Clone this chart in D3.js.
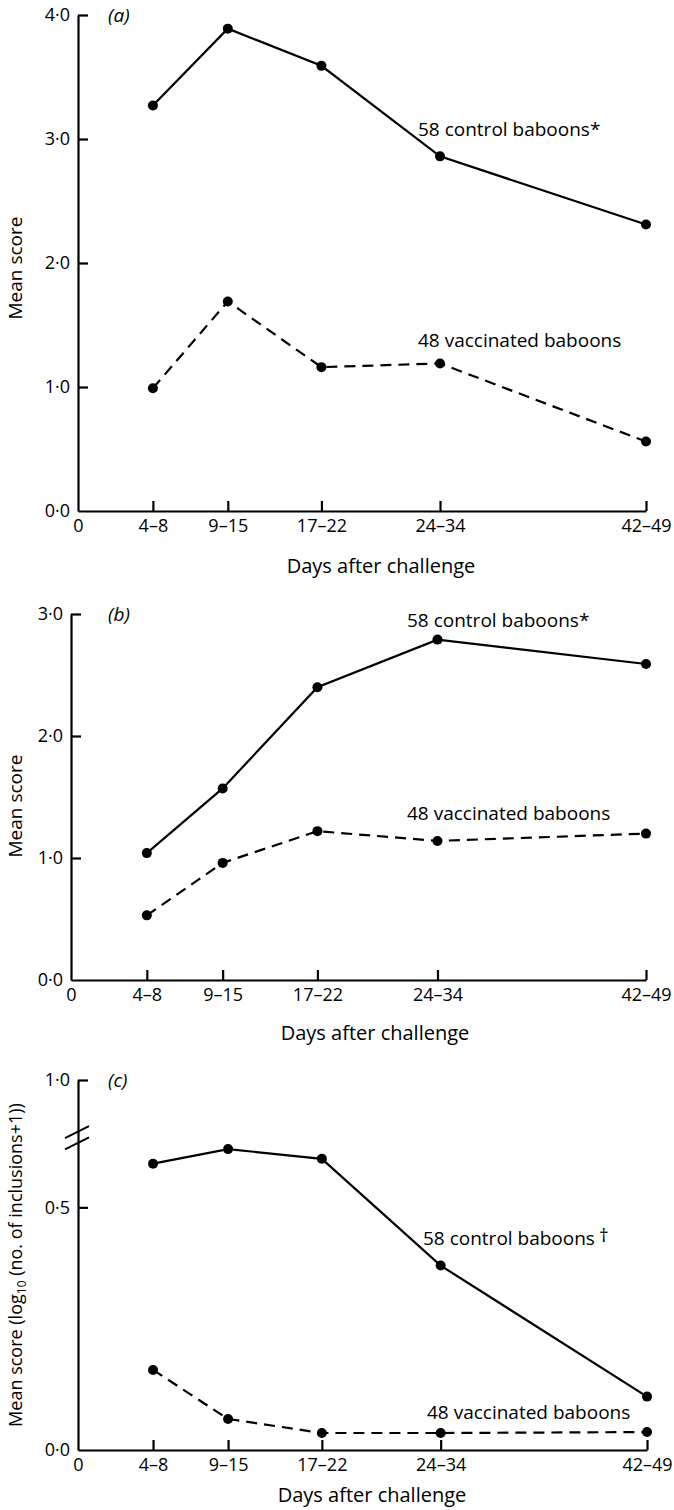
<!DOCTYPE html>
<html>
<head>
<meta charset="utf-8">
<script src="https://cdn.jsdelivr.net/npm/d3@7"></script>
<style>
  body { margin: 0; background: #fff; }
  svg text { font-family: "Open Sans", "DejaVu Sans", sans-serif; fill: #000; }
</style>
</head>
<body>
<svg id="chart"></svg>
<script>
// Categories (day ranges) and their mid-day used to place them on the axis
const categories = ['4–8', '9–15', '17–22', '24–34', '42–49'];
const dayMidpoints = [6, 12, 19.5, 29, 45.5];

// Panel (a)
const controlA = [3.27, 3.89, 3.59, 2.86, 2.31];
const vaccinatedA = [0.99, 1.69, 1.16, 1.19, 0.56];
const yTicksA = [0, 1, 2, 3, 4];

// Panel (b)
const controlB = [1.04, 1.57, 2.40, 2.79, 2.59];
const vaccinatedB = [0.53, 0.96, 1.22, 1.14, 1.20];
const yTicksB = [0, 1, 2, 3];

// Panel (c) log10(no. of inclusions + 1)
const controlC = [0.59, 0.62, 0.60, 0.38, 0.11];
const vaccinatedC = [0.165, 0.064, 0.035, 0.035, 0.037];
const yTicksC = [0, 0.5, 1.0];

const controlLabel = '58 control baboons';
const controlMarks = ['*', '*', '†'];
const vaccinatedLabel = '48 vaccinated baboons';
const xTitle = 'Days after challenge';

const W = 674, H = 1510;
const svg = d3.select('#chart').attr('width', W).attr('height', H);

const fmt = d => d.toFixed(1).replace('.', '·');

// Panel layout
const panels = [
  {
    tag: 'a', control: controlA, vacc: vaccinatedA, ticks: yTicksA,
    x: [78, 646], yDomain: [0, 4], yRange: [511, 15],
    ctlLabel: [418, 136], vacLabel: [418, 347], titleY: 573, titleX: 381,
    yTitleY: 268, tagY: 22
  },
  {
    tag: 'b', control: controlB, vacc: vaccinatedB, ticks: yTicksB,
    x: [71, 646], yDomain: [0, 3], yRange: [980, 614],
    ctlLabel: [407, 627], vacLabel: [407, 820], titleY: 1040, titleX: 375,
    yTitleY: 806, tagY: 621
  },
  {
    tag: 'c', control: controlC, vacc: vaccinatedC, ticks: yTicksC,
    x: [78, 647], yDomain: [0, 0.68, 1.0], yRange: [1450, 1120, 1080],
    ctlLabel: [423, 1245], vacLabel: [427, 1419], titleY: 1502, titleX: 372,
    yTitleY: 1265, tagY: 1087, broken: true
  }
];

panels.forEach((p, pi) => {
  const g = svg.append('g').attr('class', 'panel-' + p.tag);

  const xScale = d3.scaleLinear().domain([0, 45.5]).range(p.x);
  const yScale = d3.scaleLinear().domain(p.yDomain).range(p.yRange);
  const y0 = yScale(0);

  // x-axis: ticks point up into the plot
  const xAxis = d3.axisBottom(xScale)
    .tickValues([0].concat(dayMidpoints))
    .tickFormat((d, i) => i === 0 ? '0' : categories[i - 1])
    .tickSizeInner(-10)
    .tickSizeOuter(0)
    .tickPadding(8);

  const gx = g.append('g')
    .attr('transform', `translate(0, ${y0})`)
    .call(xAxis);
  gx.selectAll('path, line').attr('stroke', '#000').attr('stroke-width', 2.2);
  gx.selectAll('text').attr('font-size', 18).attr('fill', '#000');
  gx.selectAll('.tick').filter(d => d === 0).select('line').remove();

  // y-axis: ticks point right
  const yAxis = d3.axisLeft(yScale)
    .tickValues(p.ticks)
    .tickFormat(fmt)
    .tickSizeInner(-10)
    .tickSizeOuter(0)
    .tickPadding(8);

  const gy = g.append('g')
    .attr('transform', `translate(${p.x[0]}, 0)`)
    .call(yAxis);
  gy.selectAll('path, line').attr('stroke', '#000').attr('stroke-width', 2.2);
  gy.selectAll('text').attr('font-size', 18).attr('fill', '#000');
  gy.selectAll('.tick').filter(d => d === 0).select('line').remove();

  // axis break marks on panel (c)
  if (p.broken) {
    [0.655, 0.632].forEach(v => {
      const yy = yScale(v);
      g.append('line')
        .attr('x1', p.x[0] - 13).attr('y1', yy + 6)
        .attr('x2', p.x[0] + 11).attr('y2', yy - 6)
        .attr('stroke', '#000').attr('stroke-width', 2);
    });
  }

  // lines
  const line = d3.line()
    .x((d, i) => xScale(dayMidpoints[i]))
    .y(d => yScale(d));

  g.append('path')
    .datum(p.control)
    .attr('d', line)
    .attr('fill', 'none')
    .attr('stroke', '#000')
    .attr('stroke-width', 2.2);

  g.append('path')
    .datum(p.vacc)
    .attr('d', line)
    .attr('fill', 'none')
    .attr('stroke', '#000')
    .attr('stroke-width', 2.2)
    .attr('stroke-dasharray', '11,7');

  // points
  [p.control, p.vacc].forEach(series => {
    g.selectAll(null)
      .data(series)
      .enter().append('circle')
      .attr('cx', (d, i) => xScale(dayMidpoints[i]))
      .attr('cy', d => yScale(d))
      .attr('r', 5)
      .attr('fill', '#000');
  });

  // series labels
  const ct = g.append('text')
    .attr('x', p.ctlLabel[0]).attr('y', p.ctlLabel[1])
    .attr('font-size', 19);
  ct.append('tspan').text(controlLabel);
  if (controlMarks[pi] === '†') {
    ct.append('tspan').attr('dx', 4).attr('dy', -3).text('†');
  } else {
    ct.append('tspan').text(controlMarks[pi]);
  }

  g.append('text')
    .attr('x', p.vacLabel[0]).attr('y', p.vacLabel[1])
    .attr('font-size', 19)
    .text(vaccinatedLabel);

  // panel tag
  g.append('text')
    .attr('x', 108).attr('y', p.tagY)
    .attr('font-size', 19)
    .attr('font-style', 'italic')
    .text(`(${p.tag})`);

  // x title
  g.append('text')
    .attr('x', p.titleX).attr('y', p.titleY)
    .attr('text-anchor', 'middle')
    .attr('font-size', 20)
    .text(xTitle);

  // y title
  const yt = g.append('text')
    .attr('transform', `translate(22, ${p.yTitleY}) rotate(-90)`)
    .attr('text-anchor', 'middle')
    .attr('font-size', p.tag === 'c' ? 18 : 19);
  if (p.tag === 'c') {
    yt.append('tspan').text('Mean score (log');
    yt.append('tspan').attr('font-size', 12).attr('dy', 4).text('10');
    yt.append('tspan').attr('dy', -4).text(' (no. of inclusions+1))');
  } else {
    yt.text('Mean score');
  }
});
</script>
</body>
</html>
